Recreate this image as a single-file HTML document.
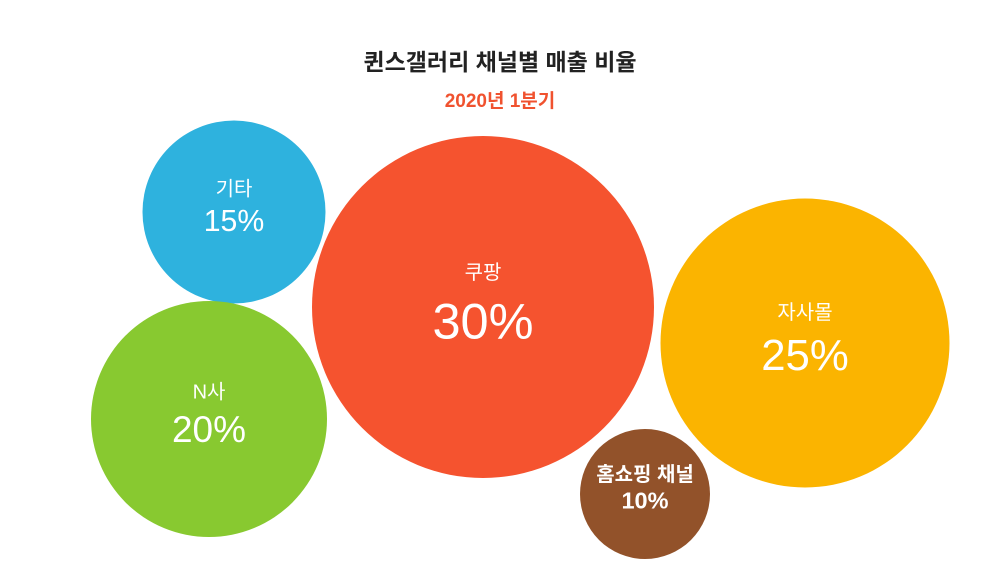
<!DOCTYPE html>
<html><head><meta charset="utf-8">
<style>
html,body{margin:0;padding:0;background:#fff;}
body{width:1000px;height:561px;overflow:hidden;font-family:"Liberation Sans","Noto Sans CJK KR",sans-serif;}
</style></head>
<body>
<svg id="chart" width="1000" height="561" xmlns="http://www.w3.org/2000/svg">
<text x="500" y="70" text-anchor="middle" font-size="23" font-weight="bold" fill="#222" font-family="Liberation Sans, Noto Sans CJK KR, sans-serif">퀸스갤러리 채널별 매출 비율</text>
<text x="500" y="107" text-anchor="middle" font-size="19" font-weight="bold" fill="#f0522f" font-family="Liberation Sans, Noto Sans CJK KR, sans-serif">2020년 1분기</text>
<g id="bubbles"></g>
</svg>
<script>
const categories = ["기타","쿠팡","자사몰","N사","홈쇼핑 채널"];
const values = [15,30,25,20,10];
const colors = ["#2eb2de","#f5532f","#fbb400","#88c930","#92522a"];
const centersX = [234,483,805,209,645];
const centersY = [212,307,343,419,494];
function rScale(v){ return 12 + 5.3*v; }
function fontScale(v){ return 10 + 1.35*v; }
const g = document.getElementById('bubbles');
const ns = "http://www.w3.org/2000/svg";
for (let i=0;i<values.length;i++){
  const r = rScale(values[i]);
  const c = document.createElementNS(ns,'circle');
  
  
  c.setAttribute('cx', centersX[i]); c.setAttribute('cy', centersY[i]);
  c.setAttribute('r', r); c.setAttribute('fill', colors[i]);
  g.appendChild(c);
  const fs = fontScale(values[i]);
  const t1 = document.createElementNS(ns,'text');
  
  
  t1.setAttribute('x', centersX[i]); t1.setAttribute('y', centersY[i] - fs*0.55);
  t1.setAttribute('text-anchor','middle'); t1.setAttribute('fill','#fff');
  t1.setAttribute('font-size', 20);
  if (values[i] <= 10) t1.setAttribute('font-weight','bold');
  t1.textContent = categories[i];
  g.appendChild(t1);
  const t2 = document.createElementNS(ns,'text');
  
  
  t2.setAttribute('x', centersX[i]); t2.setAttribute('y', centersY[i] + fs*0.62);
  t2.setAttribute('text-anchor','middle'); t2.setAttribute('fill','#fff');
  t2.setAttribute('font-size', fs);
  if (values[i] <= 10) t2.setAttribute('font-weight','bold');
  t2.textContent = values[i] + "%";
  g.appendChild(t2);
}
</script>
</body></html>
